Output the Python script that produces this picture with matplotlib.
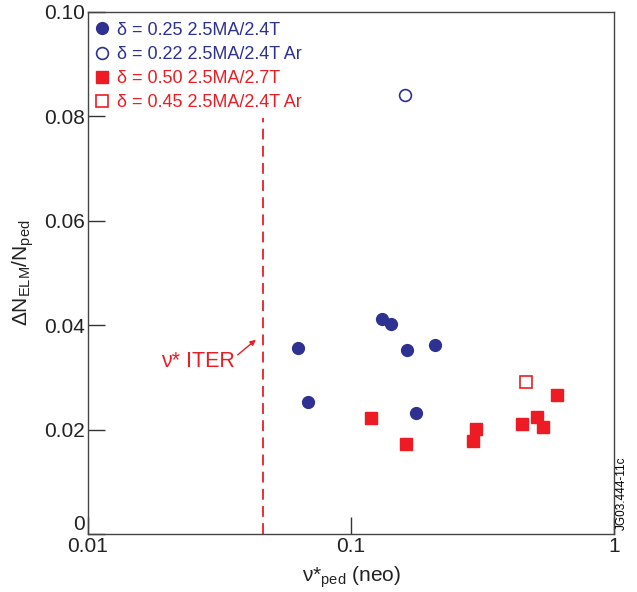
import matplotlib
matplotlib.use('Agg')
import matplotlib.pyplot as plt
import numpy as np

plt.rcParams['font.family'] = ['Liberation Sans', 'DejaVu Sans']
plt.rcParams['mathtext.fontset'] = 'custom'
plt.rcParams['mathtext.rm'] = 'Liberation Sans'
plt.rcParams['mathtext.it'] = 'Liberation Sans'

BLUE = '#2E3192'
RED = '#ED1C24'

# delta = 0.25 2.5MA/2.4T
nu_a = [0.0627, 0.131, 0.1416, 0.1637, 0.2084, 0.0689, 0.177]
dn_a = [0.0356, 0.0411, 0.0402, 0.0352, 0.0361, 0.0252, 0.0232]
# delta = 0.22 2.5MA/2.4T Ar
nu_b = [0.160]
dn_b = [0.0841]
# delta = 0.50 2.5MA/2.7T
nu_c = [0.119, 0.162, 0.299, 0.292, 0.448, 0.510, 0.538, 0.608]
dn_c = [0.0222, 0.0172, 0.0201, 0.0178, 0.0210, 0.0224, 0.0204, 0.0266]
# delta = 0.45 2.5MA/2.4T Ar
nu_d = [0.462]
dn_d = [0.0291]

nu_iter = 0.0464

labels = ['δ = 0.25 2.5MA/2.4T', 'δ = 0.22 2.5MA/2.4T Ar',
          'δ = 0.50 2.5MA/2.7T', 'δ = 0.45 2.5MA/2.4T Ar']

fig = plt.figure(figsize=(6.37, 5.92), dpi=100)
ax = fig.add_axes([0.138, 0.098, 0.826, 0.882])

ax.plot(nu_a, dn_a, 'o', color=BLUE, ms=8.5, label=labels[0])
ax.plot(nu_b, dn_b, 'o', mfc='white', mec=BLUE, mew=1.2, ms=8.5, label=labels[1])
ax.plot(nu_c, dn_c, 's', color=RED, ms=8, label=labels[2])
ax.plot(nu_d, dn_d, 's', mfc='white', mec=RED, mew=1.2, ms=8, label=labels[3])

# nu* ITER marker
ax.axvline(nu_iter, ymax=0.797, color=RED, ls=(0, (6, 3.5)), lw=1.3)
ax.text(0.0362, 0.0330, 'ν* ITER', color=RED, fontsize=15.5, ha='right', va='center')
ax.annotate('', xy=(0.0435, 0.0372), xytext=(0.0371, 0.0343),
            arrowprops=dict(arrowstyle='-|>', color=RED, lw=1, mutation_scale=8,
                            shrinkA=0, shrinkB=0))

ax.set_xscale('log')
ax.set_xlim(0.01, 1)
ax.set_ylim(0, 0.1)
ax.set_xticks([0.01, 0.1, 1])
ax.set_xticklabels(['0.01', '0.1', '1'])
ax.xaxis.set_minor_locator(matplotlib.ticker.NullLocator())
ax.set_yticks([0, 0.02, 0.04, 0.06, 0.08, 0.1])
ax.set_yticklabels(['0', '0.02', '0.04', '0.06', '0.08', '0.10'])
ax.tick_params(direction='in', length=12, width=1, labelsize=15, pad=2,
               colors='#333333', labelcolor='#222222')
ax.get_yticklabels()[0].set_va('bottom')
for s in ax.spines.values():
    s.set_linewidth(1)
    s.set_color('#444444')

ax.set_xlabel('ν*$_{\\rm ped}$ (neo)', fontsize=15, labelpad=6, color='#222222')
ax.set_ylabel('ΔN$_{\\rm ELM}$/N$_{\\rm ped}$', fontsize=15, labelpad=6, color='#222222')

leg = ax.legend(loc='upper left', bbox_to_anchor=(0, 0.9904), frameon=False,
                fontsize=13, handletextpad=0.35, handlelength=1.0,
                labelspacing=0.4, borderaxespad=0, borderpad=0.27)
for t, c in zip(leg.get_texts(), [BLUE, BLUE, RED, RED]):
    t.set_color(c)

fig.text(0.976, 0.105, 'JG03.444-11c', rotation=90, fontsize=8.5, ha='center', va='bottom')

fig.savefig('out.png', dpi=100)
